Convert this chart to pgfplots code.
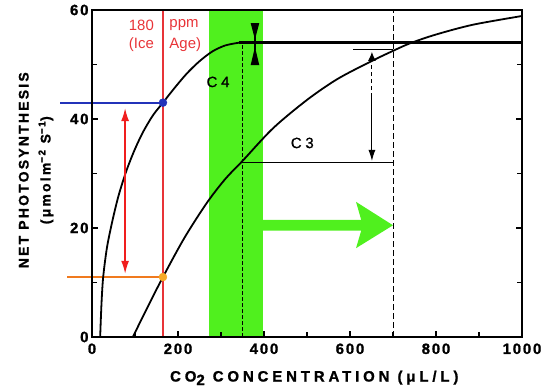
\documentclass[border=0pt]{standalone}
\usepackage{fontspec}
\setmainfont{Liberation Sans}
\newfontfamily\tickfont{Liberation Sans Bold}[LetterSpace=12, FakeBold=1.2]
\newfontfamily\xlabfont{Liberation Sans Bold}[LetterSpace=26, FakeBold=1.2]
\newfontfamily\ylabfont{Liberation Sans Bold}[LetterSpace=16, FakeBold=1.2]
\newfontfamily\cfont{Liberation Sans}[LetterSpace=25, FakeBold=0.8]
\usepackage{pgfplots}
\pgfplotsset{compat=1.18}
\usetikzlibrary{arrows.meta}
\definecolor{bandgreen}{RGB}{80,240,30}
\definecolor{redline}{RGB}{232,52,56}
\definecolor{redarrow}{RGB}{240,30,30}
\definecolor{blueline}{RGB}{35,50,185}
\definecolor{orangeline}{RGB}{240,122,30}
\definecolor{orangedot}{RGB}{246,170,40}
\begin{document}
\begin{tikzpicture}
\path[use as bounding box] (-92bp,-51bp) rectangle (455bp,337bp);
\begin{axis}[
  at={(0,0)}, anchor=south west,
  scale only axis, width=430bp, height=327bp,
  xmin=0, xmax=1000, ymin=0, ymax=60,
  axis on top, clip=false,
  axis line style={line width=1.6bp, black},
  xtick={0,200,...,1000}, ytick={0,20,40,60},
  xticklabels={0,200,400,600,800,1000},
  yticklabels={0,20,40,60},
  minor x tick num=1, minor y tick num=1,
  xtick pos=bottom,
  tick align=inside,
  major tick length=6bp, minor tick length=5bp,
  every tick/.style={black, line width=1.2bp},
  tick label style={font=\tickfont\fontsize{15}{15}\selectfont},
  xticklabel style={yshift=-3bp},
  xlabel={CO\raisebox{-0.45ex}{2} CONCENTRATION (μL/L)},
  xlabel style={at={(axis description cs:0.517,-0.125)}, anchor=center,
    font=\xlabfont\fontsize{15}{15}\selectfont},
  ylabel={NET PHOTOSYNTHESIS\\(μmolm\textsuperscript{−2} S\textsuperscript{−1})},
  ylabel style={at={(axis description cs:-0.13,0.51)}, anchor=center, align=center,
    font=\ylabfont\fontsize{14}{22}\selectfont},
]
% green band
\addplot[fill=bandgreen, draw=none] coordinates {(272,0) (398,0) (398,60) (272,60)} --cycle;
% green arrow
\addplot[fill=bandgreen, draw=none] coordinates {(398,19.5) (626,19.5) (614,16.3) (700,20.5) (614,24.8) (626,21.5) (398,21.5)} --cycle;
% red vertical line
\addplot[redline, line width=1.5bp] coordinates {(165,0) (165,60)};
% blue and orange lines
\addplot[blueline, line width=1.8bp] coordinates {(-74,43) (165,43)};
\addplot[orangeline, line width=1.8bp] coordinates {(-58,11) (165,11)};
% dashed verticals
\addplot[black, line width=0.8bp, dash pattern=on 6bp off 3bp] coordinates {(700,0) (700,60)};
\addplot[black, line width=1.8bp, dash pattern=on 4bp off 2bp] coordinates {(350,0) (350,54)};
% C4 curve
\addplot[black, line width=1.8bp, smooth] coordinates {
(19,0) (22,6) (26,11) (35,16.5) (48,21.5) (62,26) (80,30.5) (100,34.5) (120,37.8) (142,40.7) (165,43) (190,45.5) (220,48.3) (250,50.6) (280,52.4) (310,53.5) (342,54) };
\addplot[black, line width=2.4bp] coordinates {(342,54) (1000,54)};
% C3 curve
\addplot[black, line width=1.8bp, smooth] coordinates {
(95,0) (130,5.6) (165,11) (215,18.2) (267,24.6) (310,29) (350,32.3) (421,38.3) (500,43.5) (570,47.3) (647,50.5) (700,52.5) (740,53.9) (800,55.5) (886,57.3) (1000,58.9) };
\addplot[black, line width=1.4bp] coordinates {(350,32) (700,32)};
\addplot[black, line width=1.2bp] coordinates {(607,52.8) (700,52.8)};
% C3 arrow
\addplot[black, line width=1bp, dash pattern=on 4bp off 3bp, -{Latex[length=9bp,width=8bp]}] coordinates {(651,44) (651,52.3)};
\addplot[black, line width=1bp, -{Latex[length=11bp,width=7bp]}] coordinates {(651,44) (651,32.3)};
% C4 zero-change marker
\addplot[fill=black, draw=none] coordinates {(369,57.6) (389,57.6) (379,54.6)} --cycle;
\addplot[fill=black, draw=none] coordinates {(369,49.9) (389,49.9) (379,53.2)} --cycle;
\addplot[black, line width=2.5bp] coordinates {(379,55.2) (379,52.6)};
% red double arrow
\addplot[redarrow, line width=1.5bp, {Latex[length=13bp,width=8bp]}-{Latex[length=13bp,width=8bp]}] coordinates {(77,11.6) (77,42)};
% dots
\addplot[only marks, mark=*, mark size=4bp, blueline, mark options={fill=blueline, draw=blueline}] coordinates {(165,43)};
\addplot[only marks, mark=*, mark size=4bp, orangedot, mark options={fill=orangedot, draw=orangedot}] coordinates {(165,11)};
% texts
\node[redline, anchor=east, font=\fontsize{15}{15}\selectfont] at (axis cs:152,57.2) {180};
\node[redline, anchor=east, font=\fontsize{15}{15}\selectfont] at (axis cs:152,53.6) {(Ice};
\node[redline, anchor=west, font=\fontsize{15}{15}\selectfont] at (axis cs:172,57.2) {ppm};
\node[redline, anchor=west, font=\fontsize{15}{15}\selectfont] at (axis cs:172,53.6) {Age)};
\node[font=\cfont\fontsize{15}{15}\selectfont] at (axis cs:293,46.8) {C4};
\node[font=\cfont\fontsize{15}{15}\selectfont] at (axis cs:489,35.6) {C3};
\end{axis}
\end{tikzpicture}
\end{document}
